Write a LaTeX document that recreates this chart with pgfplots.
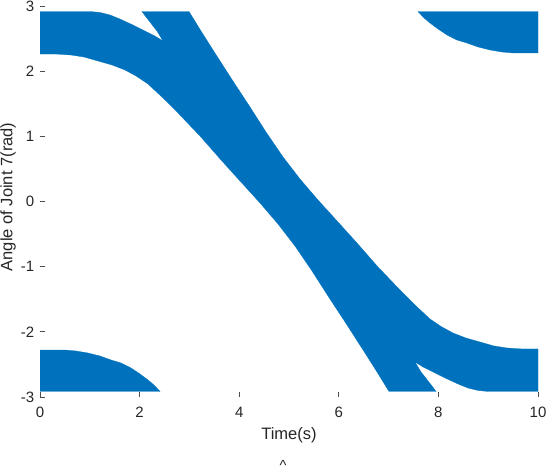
\documentclass[border=0pt]{standalone}
\usepackage{pgfplots}
\pgfplotsset{compat=1.18}
\usepackage{fontspec}
\setmainfont{Liberation Sans}
\definecolor{mblue}{RGB}{0,114,189}
\begin{document}
\begin{tikzpicture}
\begin{axis}[
  name=ax,
  scale only axis,
  width=373.5pt, height=293.25pt,
  xmin=0, xmax=10, ymin=-3, ymax=3,
  xtick={0,2,4,6,8,10}, ytick={-3,-2,-1,0,1,2,3},
  axis x line*=bottom, axis y line*=left,
  axis line style={draw=none},
  tick align=inside,
  major tick length=3.75pt,
  tick style={color=black!70, line width=0.5pt},
  /pgf/number format/assume math mode=true,
  ticklabel style={font=\fontsize{11.25}{13}\selectfont, text=black!85},
  xticklabel style={yshift=-4pt},
  yticklabel style={xshift=-0.75pt},
  clip=true,
]
% main diagonal band
\addplot[fill=mblue, draw=mblue, line width=0.2pt] coordinates {
(0,2.915) (1.004,2.915) (1.205,2.900) (1.406,2.862) (1.606,2.800) (1.867,2.708)
(2.108,2.616) (2.309,2.539) (2.470,2.463)
(2.410,2.539) (2.349,2.616) (2.269,2.693) (2.209,2.754) (2.129,2.831) (2.048,2.915)
(2.992,2.915) (3.233,2.616) (3.474,2.325) (3.835,1.895) (4.217,1.450) (4.538,1.066)
(4.880,0.683) (5.221,0.345) (5.582,0.023) (5.984,-0.315) (6.365,-0.637) (6.787,-1.005)
(7.229,-1.358) (7.530,-1.588) (7.831,-1.803) (8.072,-1.926) (8.293,-2.018) (8.554,-2.095)
(8.835,-2.156) (9.116,-2.217) (9.378,-2.248) (9.679,-2.263) (10,-2.263)
(10,-2.915) (8.996,-2.915) (8.795,-2.900) (8.594,-2.862) (8.394,-2.800) (8.133,-2.708)
(7.892,-2.616) (7.691,-2.539) (7.530,-2.463)
(7.590,-2.539) (7.651,-2.616) (7.731,-2.693) (7.791,-2.754) (7.871,-2.831) (7.952,-2.915)
(7.008,-2.915) (6.767,-2.616) (6.526,-2.325) (6.165,-1.895) (5.783,-1.450) (5.462,-1.066)
(5.120,-0.683) (4.779,-0.345) (4.418,-0.023) (4.016,0.315) (3.635,0.637) (3.213,1.005)
(2.771,1.358) (2.470,1.588) (2.169,1.803) (1.928,1.926) (1.707,2.018) (1.446,2.095)
(1.165,2.156) (0.884,2.217) (0.622,2.248) (0.321,2.263) (0,2.263)
} -- cycle;
% top-right wrapped piece
\addplot[fill=mblue, draw=mblue, line width=0.2pt] coordinates {
(10,2.915) (7.590,2.915) (7.711,2.816) (7.831,2.739) (7.992,2.647) (8.173,2.555)
(8.373,2.478) (8.574,2.432) (8.795,2.371) (9.036,2.325) (9.277,2.294) (9.498,2.279) (10,2.279)
} -- cycle;
% bottom-left wrapped piece
\addplot[fill=mblue, draw=mblue, line width=0.2pt] coordinates {
(0,-2.915) (2.410,-2.915) (2.289,-2.816) (2.169,-2.739) (2.008,-2.647) (1.827,-2.555)
(1.627,-2.478) (1.426,-2.432) (1.205,-2.371) (0.964,-2.325) (0.723,-2.294) (0.502,-2.279) (0,-2.279)
} -- cycle;
\end{axis}
\node[font=\fontsize{12.4}{14}\selectfont, text=black!85, rotate=90, anchor=center, inner sep=0pt]
  at ([xshift=-24pt,yshift=3.4pt]ax.west) {Angle of Joint 7(rad)};
\node[font=\fontsize{12.4}{14}\selectfont, text=black!85, anchor=center, inner sep=0pt]
  at ([yshift=-28.5pt]ax.south) {Time(s)};
\node[font=\fontsize{11}{12}\selectfont, text=black!85, anchor=north, inner sep=0pt, text height=8pt, text depth=0pt]
  at ([xshift=-4.5pt,yshift=-47pt]ax.south) {\textasciicircum};
\pgfresetboundingbox
\path[use as bounding box] ([xshift=-30pt,yshift=-56.25pt]ax.south west) rectangle ([xshift=6pt,yshift=4.5pt]ax.north east);
\end{tikzpicture}
\end{document}
